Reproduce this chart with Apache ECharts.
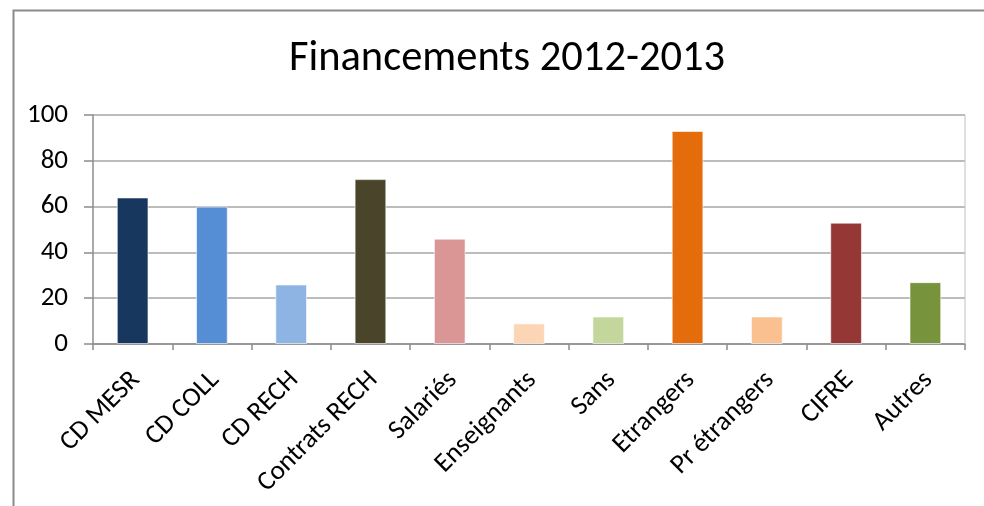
<!DOCTYPE html>
<html>
<head>
<meta charset="utf-8">
<script src="https://cdn.jsdelivr.net/npm/echarts@6/dist/echarts.min.js"></script>
<style>
html,body{margin:0;padding:0;background:#fff;}
#c{width:984px;height:506px;}
</style>
</head>
<body>
<div id="c"></div>
<script>
const titleText = "Financements 2012-2013";
const categories = ["CD MESR","CD COLL","CD RECH","Contrats RECH","Salariés","Enseignants","Sans","Etrangers","Pr étrangers","CIFRE","Autres"];
const values = [64, 60, 26, 72, 46, 9, 12, 93, 12, 53, 27];
const barColors = ["#17375E","#558ED5","#8EB4E3","#4A452A","#D99694","#FCD5B5","#C3D69B","#E46C0A","#FAC090","#953735","#77933C"];
const yTicks = {min:0, max:100, interval:20};

const FONT = "Carlito, Calibri, Lato, sans-serif";
const chart = echarts.init(document.getElementById('c'));
chart.setOption({
  animation:false,
  backgroundColor:'#fff',
  title:{
    text:titleText, top:33,
    left: 502, textAlign:'center',
    textStyle:{fontFamily:FONT, fontSize:42.5, fontWeight:'normal', color:'#000'}
  },
  graphic:[{
    type:'rect', left:11, top:8, shape:{width:1100, height:600},
    style:{fill:'none', stroke:'#8a8a8a', lineWidth:2}, silent:true
  },{
    type:'line', shape:{x1:965, y1:115, x2:965, y2:344},
    style:{stroke:'#c0c0c0', lineWidth:1}, silent:true, z:1
  }],
  grid:{left:93, right:19, top:115, bottom:162, containLabel:false},
  xAxis:{
    type:'category', data:categories,
    axisLine:{lineStyle:{color:'#8c8c8c', width:1.5}},
    axisTick:{show:true, alignWithLabel:false, length:6, lineStyle:{color:'#8c8c8c', width:1.5}},
    axisLabel:{rotate:45, interval:0, margin:16, align:'right', verticalAlign:'top',
      padding:[0,9,0,0],
      fontFamily:FONT, fontSize:27, color:'#000'}
  },
  yAxis:{
    type:'value', min:yTicks.min, max:yTicks.max, interval:yTicks.interval,
    axisLine:{show:true, lineStyle:{color:'#8c8c8c', width:1.5}},
    axisTick:{show:true, length:9, lineStyle:{color:'#8c8c8c', width:1.5}},
    splitLine:{lineStyle:{color:'#a6a6a6', width:1.5}},
    axisLabel:{margin:25, fontFamily:FONT, fontSize:27, color:'#000'}
  },
  series:[{
    type:'bar', barWidth:'40%',
    data: values.map((v,i)=>({value:v, itemStyle:{color:barColors[i]}})),
    itemStyle:{borderColor:'rgba(255,255,255,0.6)', borderWidth:1}
  }]
});
</script>
</body>
</html>
